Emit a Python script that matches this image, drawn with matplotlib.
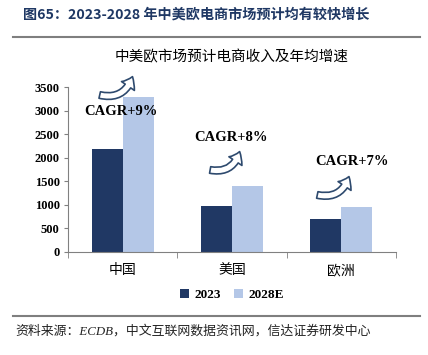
import matplotlib.pyplot as plt
from matplotlib.lines import Line2D
from matplotlib.patches import FancyArrowPatch
import numpy as np

# data
regions = ['中国', '美国', '欧洲']
rev_2023 = [2180, 980, 690]
rev_2028 = [3290, 1410, 960]
cagr_labels = ['CAGR+9%', 'CAGR+8%', 'CAGR+7%']
yticks = [0, 500, 1000, 1500, 2000, 2500, 3000, 3500]

DARK = '#203864'
LIGHT = '#B4C7E7'
NAVY = '#1F3864'
SERIF = ['Liberation Serif', 'Noto Sans CJK SC']
CJK = ['Noto Sans CJK SC', 'DejaVu Sans']

plt.rcParams['font.family'] = CJK

fig = plt.figure(figsize=(4.28, 3.55), dpi=100)
ax = fig.add_axes([68 / 428, 1 - 252 / 355, 328 / 428, 165 / 355])

x = np.arange(len(regions))
w = 0.285
ax.bar(x - w / 2, rev_2023, w, color=DARK, label='2023')
ax.bar(x + w / 2, rev_2028, w, color=LIGHT, label='2028E')

ax.set_xlim(-0.5, 2.5)
ax.set_ylim(0, 3500)
ax.set_yticks(yticks)
ax.set_yticklabels([str(t) for t in yticks], family=SERIF, fontweight='bold', fontsize=9)
ax.set_xticks(x)
ax.set_xticklabels(regions, fontsize=10, fontweight='medium')
ax.set_xticks([-0.5, 0.5, 1.5, 2.5], minor=True)
ax.tick_params(axis='x', which='major', length=0, pad=8)
ax.tick_params(axis='x', which='minor', length=4, color='#808080')
ax.tick_params(axis='y', length=3, color='#808080', pad=3)
for s in ['top', 'right']:
    ax.spines[s].set_visible(False)
for s in ['left', 'bottom']:
    ax.spines[s].set_color('#808080')

# CAGR labels and curved arrows
text_pos = [(-0.015, 2970), (0.99, 2420), (2.10, 1930)]
arrow_pos = [((-0.21, 3330), (0.09, 3720)),
             ((0.80, 1740), (1.07, 2130)),
             ((1.78, 1210), (2.07, 1600))]
for lab, (tx, ty), (a, b) in zip(cagr_labels, text_pos, arrow_pos):
    ax.text(tx, ty, lab, ha='center', va='center', family=SERIF,
            fontweight='bold', fontsize=10.5, color='black', clip_on=False)
    arr = FancyArrowPatch(a, b, connectionstyle='arc3,rad=0.45',
                          arrowstyle='simple,head_width=0.75,head_length=0.5,tail_width=0.32',
                          facecolor='white', edgecolor='#2E4A6E', lw=1.2,
                          clip_on=False, mutation_scale=15, shrinkA=0, shrinkB=0)
    ax.add_patch(arr)

# legend
leg = ax.legend(loc='upper center', bbox_to_anchor=(0.5, -0.15), ncol=2,
                frameon=False, handlelength=0.7, handleheight=0.7,
                handletextpad=0.4, columnspacing=1.0,
                prop={'family': SERIF, 'weight': 'bold', 'size': 9.5})

# titles and framing
fig.text(23 / 428, 1 - 15 / 355, '图65：2023-2028 年中美欧电商市场预计均有较快增长',
         ha='left', va='center', fontsize=10.2, fontweight='bold', color=NAVY)
fig.text(232 / 428, 1 - 57 / 355, '中美欧市场预计电商收入及年均增速',
         ha='center', va='center', fontsize=10.5, color='black')
fig.add_artist(Line2D([13 / 428, 420 / 428], [1 - 37 / 355] * 2, color='#7F7F7F', lw=1.5))
fig.add_artist(Line2D([13 / 428, 420 / 428], [1 - 316 / 355] * 2, color='#7F7F7F', lw=1.5))
fig.text(15 / 428, 1 - 331 / 355, '资料来源：ECDB，中文互联网数据资讯网，信达证券研发中心',
         ha='left', va='center', fontsize=9.3, style='italic', family=SERIF, color='#222222')

fig.savefig('out.png', dpi=100)
